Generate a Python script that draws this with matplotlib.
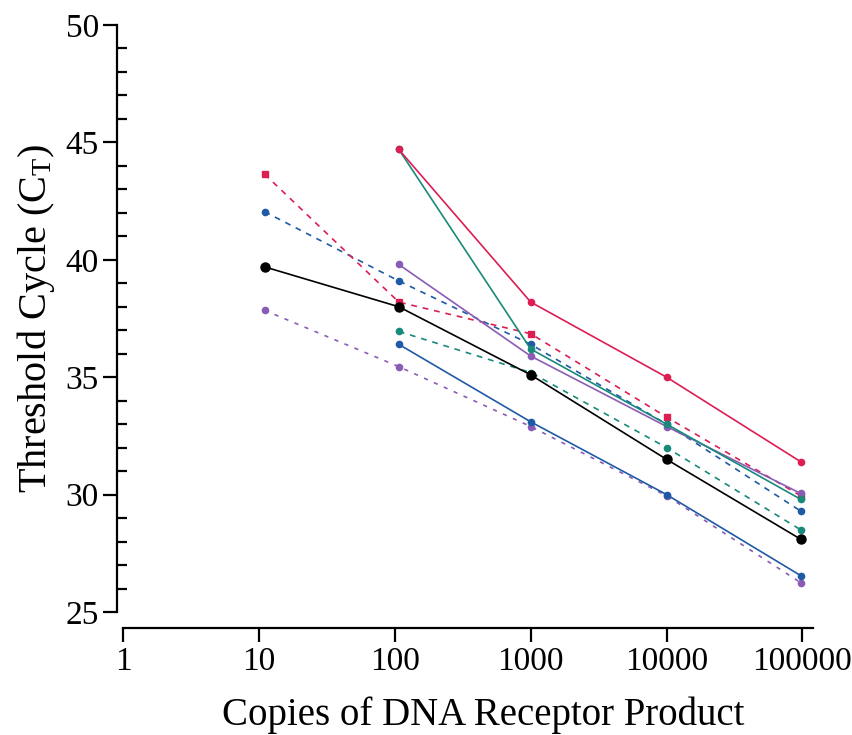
import matplotlib
matplotlib.use("Agg")
import matplotlib.pyplot as plt
from matplotlib.ticker import FixedLocator, NullFormatter

plt.rcParams['font.family'] = ['Liberation Serif', 'DejaVu Serif']
plt.rcParams['mathtext.fontset'] = 'custom'
plt.rcParams['mathtext.rm'] = 'Liberation Serif'
plt.rcParams['mathtext.it'] = 'Liberation Serif:italic'

copies_all = [11, 107, 1000, 10000, 97000]
copies_100 = [107, 1000, 10000, 97000]

black_solid = [39.7, 38.0, 35.1, 31.5, 28.1]
red_solid = [44.7, 38.2, 35.0, 31.4]
teal_solid = [44.7, 36.2, 33.0, 29.8]
purple_solid = [39.8, 35.9, 32.9, 30.05]
blue_solid = [36.4, 33.1, 30.0, 26.55]
red_dashed = [43.65, 38.2, 36.85, 33.3, 29.95]
blue_dashed = [42.05, 39.1, 36.4, 33.0, 29.3]
teal_dashed = [36.95, 35.2, 32.0, 28.5]
purple_dashed = [37.85, 35.45, 32.9, 29.95, 26.25]

x_ticks = [1, 10, 100, 1000, 10000, 100000]
x_ticklabels = ['1', '10', '100', '1000', '10000', '100000']
y_ticks = [25, 30, 35, 40, 45, 50]

RED = '#dc1e52'
TEAL = '#178a7c'
BLUE = '#1f5aa6'
PURPLE = '#8a5cb5'

fig = plt.figure(figsize=(8.53, 7.35), dpi=100)
W, H = 853, 735
px_per_dec = 135.9
x1_px = 123.0
left_px = 117.0
right_px = 816.0
xmin = 10 ** ((left_px - x1_px) / px_per_dec)
xmax = 10 ** ((right_px - x1_px) / px_per_dec)
ax = fig.add_axes([left_px / W, 1 - 612 / H, (right_px - left_px) / W, (612 - 25) / H])
ax.set_xscale('log')
ax.set_xlim(xmin, xmax)
ax.set_ylim(25, 50)

lw = 1.2
dash = (0, (3.5, 3.5))
ms = 4.5

ax.plot(copies_all, purple_dashed, color=PURPLE, lw=lw, ls=(0, (2.5, 4)), marker='o', ms=ms)
ax.plot(copies_100, teal_dashed, color=TEAL, lw=lw, ls=dash, marker='o', ms=ms)
ax.plot(copies_all, blue_dashed, color=BLUE, lw=lw, ls=dash, marker='o', ms=ms)
ax.plot(copies_all, red_dashed, color=RED, lw=lw, ls=dash, marker='s', ms=ms)
ax.plot(copies_100, blue_solid, color=BLUE, lw=lw, marker='o', ms=ms)
ax.plot(copies_100, purple_solid, color=PURPLE, lw=lw, marker='o', ms=ms)
ax.plot(copies_100, teal_solid, color=TEAL, lw=lw, marker='o', ms=ms)
ax.plot(copies_100, red_solid, color=RED, lw=lw, marker='o', ms=ms)
ax.plot(copies_all, black_solid, color='black', lw=lw, marker='o', ms=6.5)

for s in ['top', 'right']:
    ax.spines[s].set_visible(False)
ax.spines['left'].set_linewidth(1.6)
ax.spines['bottom'].set_linewidth(1.6)
ax.spines['bottom'].set_position(('outward', 16 * 0.72))
ax.spines['bottom'].set_bounds(1, 10 ** ((813 - x1_px) / px_per_dec))

ax.set_xticks(x_ticks)
ax.set_xticklabels(x_ticklabels)
ax.xaxis.set_minor_locator(FixedLocator([]))
ax.xaxis.set_minor_formatter(NullFormatter())
ax.set_yticks(y_ticks)
ax.set_yticks([y for y in range(25, 51) if y % 5 != 0], minor=True)

ax.tick_params(axis='x', which='major', direction='out', length=10, width=1.6,
               labelsize=24, pad=3)
ax.tick_params(axis='y', which='major', direction='out', length=10, width=1.6,
               labelsize=24, pad=3)
ax.tick_params(axis='y', which='minor', direction='in', length=7, width=1.6)

ax.set_xlabel('Copies of DNA Receptor Product', fontsize=28)
ax.xaxis.set_label_coords(0.524, -0.144)
ax.set_ylabel(r'Threshold Cycle (C$_{\mathrm{T}}$)', fontsize=29, labelpad=6)

fig.savefig('out.png', dpi=100)
